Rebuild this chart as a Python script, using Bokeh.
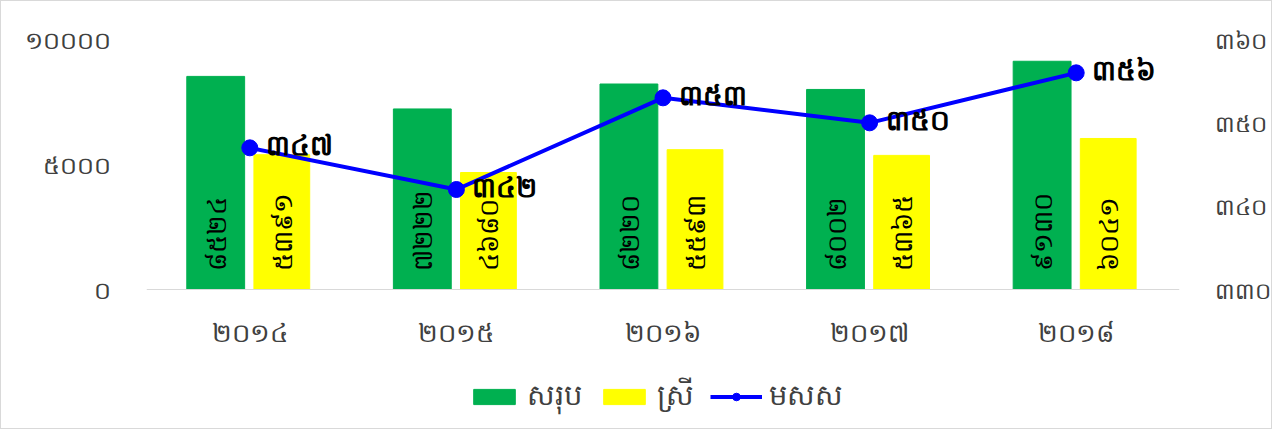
from bokeh.plotting import figure
from bokeh.models import (Range1d, LinearAxis, FixedTicker, Legend, LegendItem,
                          ColumnDataSource, FactorRange, Span)
from bokeh.transform import dodge
from bokeh.core.properties import value
from bokeh.embed import file_html
from bokeh.resources import INLINE

years = ["២០១៤", "២០១៥", "២០១៦", "២០១៧", "២០១៨"]
total = [8524, 7222, 8220, 8002, 9130]
female = [5391, 4680, 5593, 5365, 6041]
gpi = [347, 342, 353, 350, 356]
left_ticks = [0, 5000, 10000]
right_ticks = [330, 340, 350, 360]
names = ["សរុប", "ស្រី", "មសស"]

KH = str.maketrans("0123456789", "០១២៣៤៥៦៧៨៩")
def kh(n):
    return str(n).translate(KH)

FONT = "Noto Sans"

# layout (pixels): top of value axis, zero line, figure height
W, H = 1272, 429
TOP, ZERO = 38, 288
below_px = H - ZERO
lmin, lmax = left_ticks[0], left_ticks[-1]
rmin, rmax = right_ticks[0], right_ticks[-1]
l_start = lmin - (lmax - lmin) * below_px / (ZERO - TOP)
r_start = rmin - (rmax - rmin) * below_px / (ZERO - TOP)

src = ColumnDataSource(dict(
    x=years, total=total, female=female, gpi=gpi,
    total_lbl=[kh(v) for v in total], female_lbl=[kh(v) for v in female],
    gpi_lbl=[kh(v) for v in gpi], zero=[0] * len(years)))

p = figure(width=W, height=H, x_range=FactorRange(*years), y_range=Range1d(l_start, lmax),
           output_backend="svg", toolbar_location=None,
           min_border_left=145, min_border_right=89, min_border_top=TOP, min_border_bottom=0)
p.extra_y_ranges = {"r": Range1d(r_start, rmax)}
p.outline_line_color = None
p.grid.visible = False
p.background_fill_color = "white"
p.border_fill_color = "white"
p.xaxis.visible = False

p.add_layout(Span(location=0, dimension="width", line_color="#d9d9d9", line_width=1))

g = p.vbar(x=dodge("x", -0.165, range=p.x_range), top="total", width=0.28, source=src,
           fill_color="#00b050", line_color="#00b050")
yl = p.vbar(x=dodge("x", 0.155, range=p.x_range), top="female", width=0.27, source=src,
            fill_color="#ffff00", line_color="#ffff00")

for dx, col in [(-0.165, "total_lbl"), (0.155, "female_lbl")]:
    p.text(x=dodge("x", dx, range=p.x_range), y="zero", text=col, source=src, angle=1.5708,
           text_align="left", text_baseline="middle", y_offset=-18,
           text_font=value(FONT), text_font_size="26px", text_color="black")

# category labels under the zero line
p.text(x="x", y="zero", text="x", source=src, y_offset=42, text_align="center",
       text_baseline="middle", text_font=value(FONT), text_font_size="26px",
       text_color="#404040")

ln = p.line(x="x", y="gpi", source=src, y_range_name="r", line_color="#0000ff", line_width=4)
mk = p.scatter(x="x", y="gpi", source=src, y_range_name="r", size=16, fill_color="#0000ff",
               line_color="#0000ff")
p.text(x="x", y="gpi", text="gpi_lbl", source=src, y_range_name="r", x_offset=16, y_offset=-4,
       text_align="left", text_baseline="middle", text_font=value(FONT),
       text_font_size="28px", text_font_style="bold", text_color="black")

ya = p.yaxis[0]
ya.ticker = FixedTicker(ticks=left_ticks)
ya.major_label_overrides = {t: kh(t) for t in left_ticks}
ya.axis_line_color = None
ya.major_tick_line_color = None
ya.minor_tick_line_color = None
ya.major_label_standoff = 30
ya.major_label_text_font = FONT
ya.major_label_text_font_size = "24px"
ya.major_label_text_color = "#404040"

ra = LinearAxis(y_range_name="r", ticker=FixedTicker(ticks=right_ticks))
ra.major_label_overrides = {t: kh(t) for t in right_ticks}
ra.axis_line_color = None
ra.major_tick_line_color = None
ra.minor_tick_line_color = None
ra.major_label_standoff = 29
ra.major_label_text_font = FONT
ra.major_label_text_font_size = "23px"
ra.major_label_text_color = "#404040"
p.add_layout(ra, "right")

legend = Legend(items=[LegendItem(label=names[0], renderers=[g]),
                       LegendItem(label=names[1], renderers=[yl]),
                       LegendItem(label=names[2], renderers=[ln, mk])],
                orientation="horizontal", location=(322, 11),
                glyph_width=52, glyph_height=19, label_standoff=7, spacing=16,
                padding=0, margin=0, border_line_color=None, background_fill_alpha=0,
                label_text_font=FONT, label_text_font_size="29px", label_text_color="#404040")
p.add_layout(legend, "center")

p.styles = {"border": "1px solid #d9d9d9", "box-sizing": "border-box"}

open("out.html", "w").write(file_html(p, INLINE))
